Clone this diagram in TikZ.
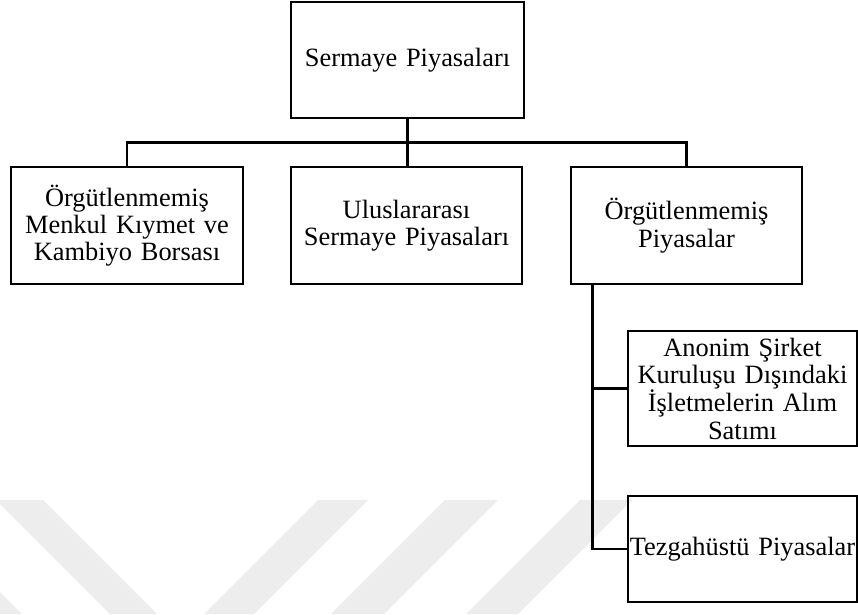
\documentclass[tikz,border=0pt]{standalone}
\usepackage{fontspec}
\setmainfont{Liberation Serif}
\begin{document}
\begin{tikzpicture}[x=1pt, y=-1pt,
        kutu/.style={draw, line width=2.6pt, inner sep=0pt, align=center,
            font=\fontsize{26.4}{27.3}\selectfont},
        hat/.style={line width=2.6pt},
        filigran/.style={fill=black!7, draw=none}]
    \useasboundingbox (0, 0) rectangle (858, 614);
    \fill[filigran] (-4, 500) -- (43, 500) -- (157, 614) -- (110, 614) -- cycle;
    \fill[filigran] (0, 592) -- (22, 614) -- (0, 614) -- cycle;
    \fill[filigran] (318, 500) -- (368, 500) -- (254, 614) -- (204, 614) -- cycle;
    \fill[filigran] (445, 500) -- (498, 500) -- (384, 614) -- (331, 614) -- cycle;
    \fill[filigran] (580, 500) -- (632, 500) -- (518, 614) -- (466, 614) -- cycle;
    \node[kutu, minimum width=233pt, minimum height=116pt, text width=233pt] (sermaye) at (407.5, 60) {Sermaye Piyasaları};
    \node[kutu, minimum width=232pt, minimum height=117pt, text width=232pt] (borsa) at (127, 225.5) {Örgütlenmemiş\\Menkul Kıymet ve\\Kambiyo Borsası};
    \node[kutu, minimum width=231pt, minimum height=117pt, text width=231pt] (ulus) at (406.5, 225.5) {Uluslararası\\Sermaye Piyasaları};
    \node[kutu, minimum width=231pt, minimum height=117pt, text width=231pt] (orgut) at (686.5, 225.5) {Örgütlenmemiş\\Piyasalar};
    \node[kutu, minimum width=229pt, minimum height=115pt, text width=229pt] (anonim) at (742.5, 388.5) {Anonim Şirket\\Kuruluşu Dışındaki\\İşletmelerin Alım\\Satımı};
    \node[kutu, minimum width=229pt, minimum height=106pt, text width=229pt] (tezgah) at (742.5, 549) {Tezgahüstü Piyasalar};
    \coordinate (bara) at (0, 142.5);
    \coordinate (govde) at ([xshift=23pt]orgut.south west);
    \draw[hat] (sermaye.south) -- (sermaye.south |- ulus.north);
    \draw[hat] (borsa.north) |- (orgut.north |- bara) -- (orgut.north);
    \draw[hat] (govde) |- (tezgah.west);
    \draw[hat] (govde |- anonim.west) -- (anonim.west);
\end{tikzpicture}
\end{document}
